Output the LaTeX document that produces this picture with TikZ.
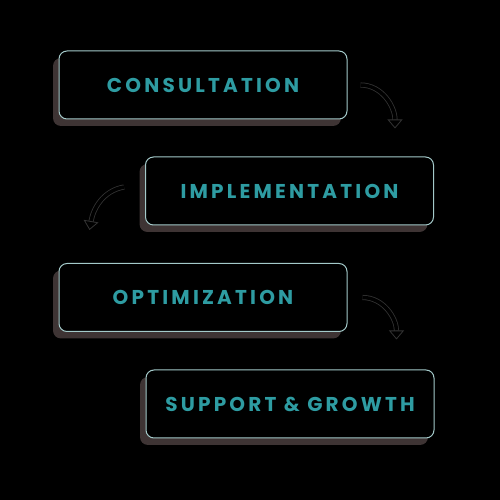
\documentclass[tikz,border=0pt]{standalone}
\usepackage{fontspec}
\newfontfamily\stagefont{Poppins}[LetterSpace=16]
\usepackage{tikz}
\usetikzlibrary{arrows.meta,positioning,shadows}

\definecolor{stageteal}{HTML}{2E9CA2}
\definecolor{edgegray}{HTML}{A4CACA}
\definecolor{shadowbrown}{HTML}{3E3434}
\definecolor{arrowgray}{HTML}{333333}

\tikzset{
	stage/.style={draw=edgegray, line width=1pt, fill=black, rounded corners=8pt,
		minimum width=288pt, minimum height=68pt, inner sep=0pt, text=stageteal,
		font=\stagefont\bfseries\fontsize{20}{24}\selectfont,
		drop shadow={shadow xshift=-6pt, shadow yshift=-7pt, fill=shadowbrown, opacity=1}},
	flowarrow/.style={draw=arrowgray, line width=0.8pt, double=black, double distance=3.5pt,
		-{Triangle[open, length=9pt, width=15pt]}}
}

\begin{document}
\begin{tikzpicture}[x=1pt,y=1pt]
	\fill[black] (0,0) rectangle (500,500);
	\useasboundingbox (0,0) rectangle (500,500);
	
	\node[stage] (consult) at (203,415) {CONSULTATION};
	\node[stage] (implement) at (289.5,309) {IMPLEMENTATION};
	\node[stage] (optimize) at (203,202.5) {OPTIMIZATION};
	\node[stage] (support) at (290,96) {SUPPORT \& GROWTH};
	
	\draw[flowarrow] ([xshift=13pt]consult.east) to[out=0,in=90] ([xshift=-39pt,yshift=28pt]implement.north east);
	\draw[flowarrow] ([xshift=-21pt,yshift=4pt]implement.west) to[out=190,in=80] ([xshift=31pt,yshift=33pt]optimize.north west);
	\draw[flowarrow] ([xshift=15pt]optimize.east) to[out=0,in=90] ([xshift=-38pt,yshift=30pt]support.north east);
\end{tikzpicture}
\end{document}
